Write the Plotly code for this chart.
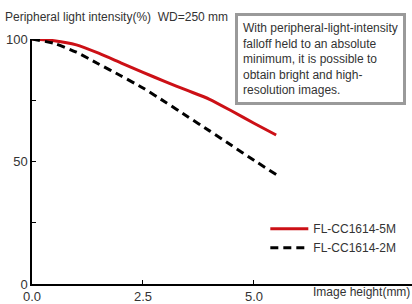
import plotly.graph_objects as go

image_height = [0, 0.5, 1.0, 1.5, 2.0, 2.5, 3.0, 3.5, 4.0, 4.5, 5.0, 5.5]
fl_5m = [100, 99.3, 97.6, 94.2, 90.3, 86.4, 82.6, 79.0, 75.4, 70.6, 65.6, 60.8]
fl_2m = [100, 98.2, 94.6, 89.8, 85.0, 80.0, 74.3, 68.4, 62.5, 56.5, 50.5, 44.7]
names = ["FL-CC1614-5M", "FL-CC1614-2M"]
x_ticks = [0, 2.5, 5.0]
x_tick_labels = ["0.0", "2.5", "5.0"]
y_ticks = [0, 25, 50, 75, 100]
y_tick_labels = ["0", "", "50", "", "100"]

FONT = "Liberation Sans, Arial, sans-serif"
TXT = "#333333"

fig = go.Figure()
fig.add_trace(go.Scatter(x=image_height[:len(fl_5m)], y=fl_5m, mode="lines", name=names[0],
                         line=dict(color="#cc1016", width=3, shape="spline", smoothing=0.6)))
fig.add_trace(go.Scatter(x=image_height[:len(fl_2m)], y=fl_2m, mode="lines", name=names[1],
                         line=dict(color="#000000", width=3, dash="8px,5px", shape="spline", smoothing=0.6)))

fig.update_layout(
    width=412, height=304,
    margin=dict(l=32, r=0, t=39, b=17),
    paper_bgcolor="white", plot_bgcolor="white",
    font=dict(family=FONT, size=12, color=TXT),
    showlegend=True,
    legend=dict(x=0.614, y=0.285, xanchor="left", yanchor="top",
                bgcolor="rgba(0,0,0,0)", font=dict(size=12, color=TXT),
                tracegroupgap=0, itemwidth=38),
    xaxis=dict(range=[0, 8.56], tickvals=x_ticks, ticktext=x_tick_labels,
               showgrid=False, zeroline=False, showline=True, linecolor="black", linewidth=1.5,
               ticks="inside", ticklen=4, tickcolor="black", tickwidth=1,
               tickfont=dict(size=13, color=TXT)),
    yaxis=dict(range=[0, 100], tickvals=y_ticks, ticktext=y_tick_labels,
               showgrid=False, zeroline=False, showline=True, linecolor="black", linewidth=1.5,
               ticks="inside", ticklen=4, tickcolor="black", tickwidth=1,
               tickfont=dict(size=13, color=TXT)),
    annotations=[
        dict(text="Peripheral light intensity(%)  WD=250 mm", xref="paper", yref="paper",
             x=-29/380, y=1 + 22/248, xanchor="left", yanchor="middle", showarrow=False,
             font=dict(size=12, color=TXT)),
        dict(text="Image height(mm)", xref="paper", yref="paper",
             x=1.0, y=-17/248, xanchor="right", yanchor="bottom", showarrow=False,
             font=dict(size=12, color=TXT)),
        dict(text="With peripheral-light-intensity<br>falloff held to an absolute<br>"
                  "minimum, it is possible to<br>obtain bright and high-<br>resolution images.",
             xref="paper", yref="paper", x=(235 - 32) / 380, y=(287 - 13) / 248,
             xanchor="left", yanchor="top", showarrow=False, align="left",
             bgcolor="white", bordercolor="#9a9a9a", borderwidth=3, borderpad=5,
             font=dict(size=12, color=TXT)),
    ],
)

fig.write_html("out.html", config={"displayModeBar": False},
               post_script="document.body.style.margin='0';document.body.style.padding='0';")
